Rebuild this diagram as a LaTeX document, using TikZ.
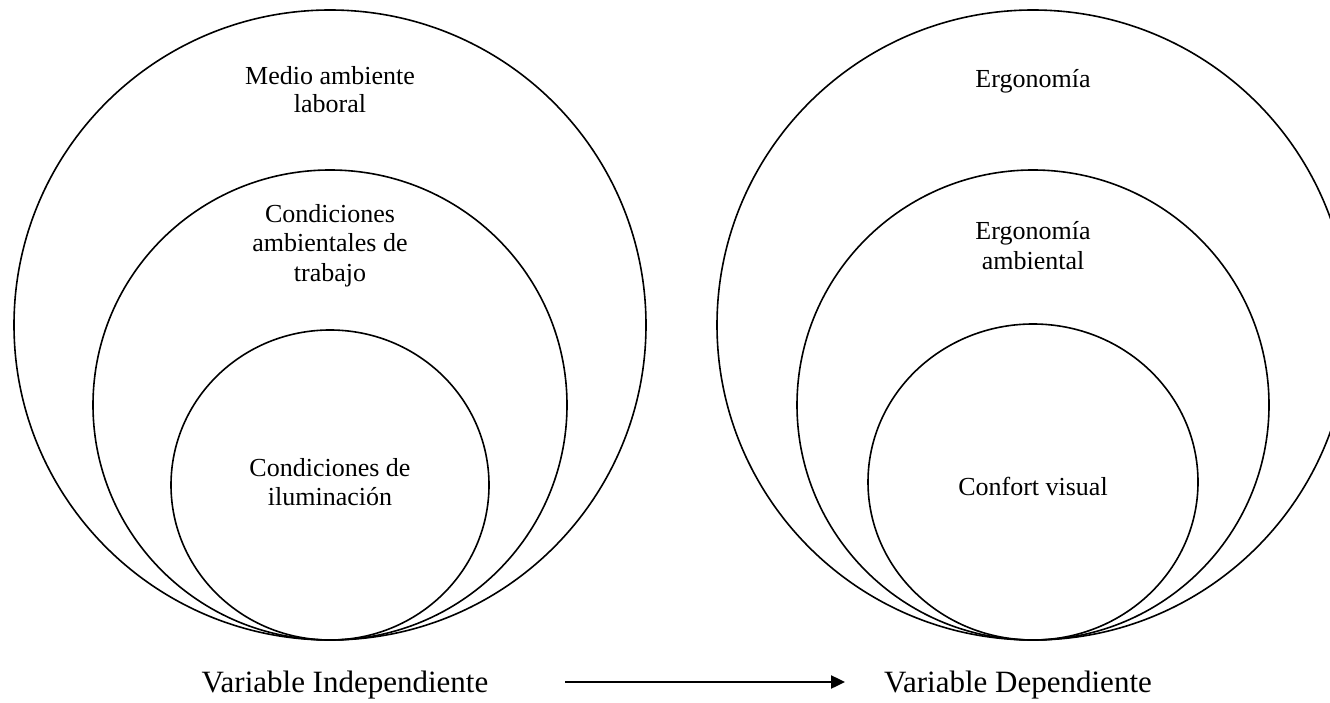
\documentclass[tikz,border=0pt]{standalone}
\usepackage{fontspec}
\setmainfont{Liberation Serif}
\usetikzlibrary{arrows.meta}
\begin{document}
\begin{tikzpicture}[x=1pt,y={(0pt,-1pt)},
  ring/.style={line width=1.6pt, black},
  lbl/.style={font=\fontsize{26}{30}\selectfont, inner sep=0pt, anchor=base},
  varlbl/.style={font=\fontsize{31}{36}\selectfont, inner sep=0pt, anchor=base},
  flow/.style={line width=2.4pt, -{Triangle[length=14pt,width=13pt]}}]
  \clip (0,0) rectangle (1330,703);
  % left group: nested circles touching at the bottom
  \draw[ring] (330,325) ellipse (316 and 315);
  \draw[ring] (330,405) ellipse (237 and 235);
  \draw[ring] (330,485) ellipse (159 and 155);
  % right group
  \draw[ring] (1033,325) ellipse (316 and 315);
  \draw[ring] (1033,405) ellipse (236 and 235);
  \draw[ring] (1033,482) ellipse (165 and 158);
  % left labels
  \node[lbl] (mal1) at (330,85)  {Medio ambiente};
  \node[lbl] (mal2) at (330,113) {laboral};
  \node[lbl] (cat1) at (330,223) {Condiciones};
  \node[lbl] (cat2) at (330,252) {ambientales de};
  \node[lbl] (cat3) at (330,281) {trabajo};
  \node[lbl] (cil1) at (330,476) {Condiciones de};
  \node[lbl] (cil2) at (330,505) {iluminación};
  % right labels
  \node[lbl] (erg)  at (1033,88)  {Ergonomía};
  \node[lbl] (era1) at (1033,240) {Ergonomía};
  \node[lbl] (era2) at (1033,270) {ambiental};
  \node[lbl] (cvi)  at (1033,495) {Confort visual};
  % variables
  \node[varlbl] (vi) at (345,692) {Variable Independiente};
  \node[varlbl] (vd) at (1018,692) {Variable Dependiente};
  \coordinate (a1) at (565,682);
  \coordinate (a2) at (845,682);
  \draw[flow] (a1) -- (a2);
\end{tikzpicture}
\end{document}
